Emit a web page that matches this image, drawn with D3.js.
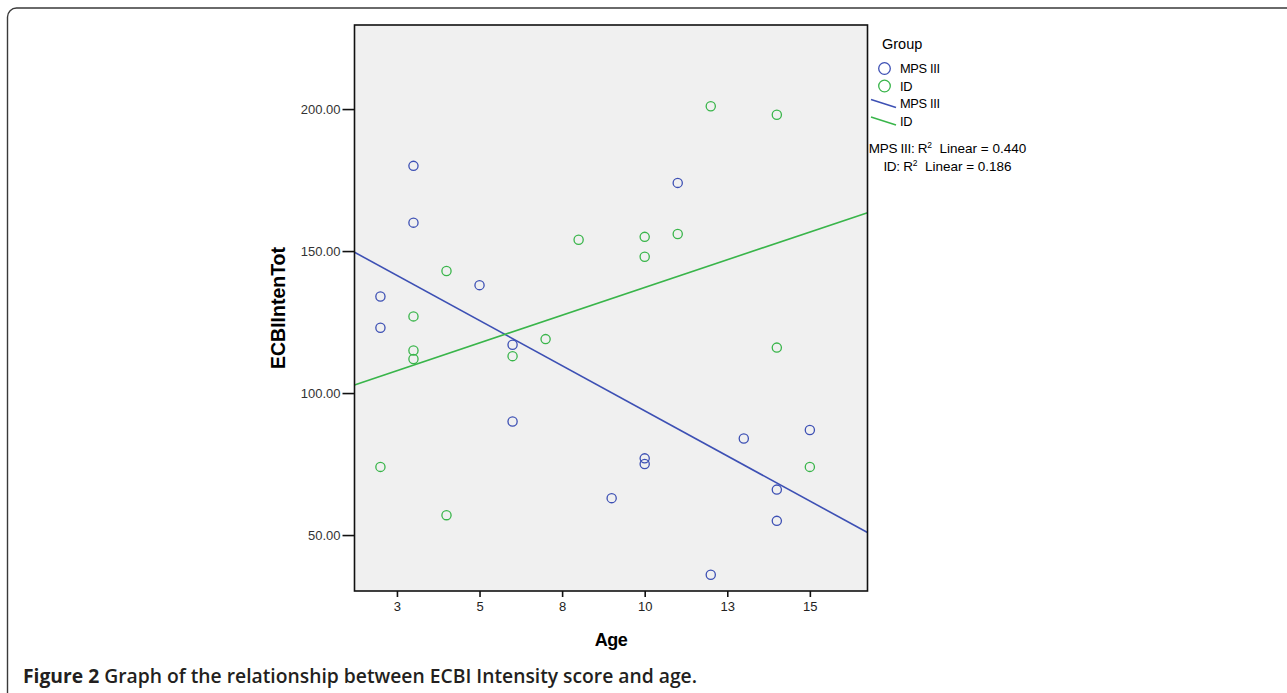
<!DOCTYPE html>
<html>
<head>
<meta charset="utf-8">
<script src="https://cdn.jsdelivr.net/npm/d3@7"></script>
<style>
  html, body { margin: 0; padding: 0; background: #fff; }
  svg { display: block; }
</style>
</head>
<body>
<svg id="chart"></svg>
<script>
// values
const mpsAge = [2, 2, 3, 3, 5, 6, 6, 9, 10, 10, 11, 12, 13, 14, 14, 15];
const mpsScore = [134, 123, 180, 160, 138, 117, 90, 63, 77, 75, 174, 36, 84, 66, 55, 87];
const idAge = [2, 3, 3, 3, 4, 4, 6, 7, 8, 10, 10, 11, 12, 14, 14, 15];
const idScore = [74, 127, 115, 112, 143, 57, 113, 119, 154, 155, 148, 156, 201, 198, 116, 74];

const groupNames = ['MPS III', 'ID'];
const rSquared = ['0.440', '0.186'];
const xTicks = [2.5, 5, 7.5, 10, 12.5, 15];
const xTickLabels = ['3', '5', '8', '10', '13', '15'];
const yTicks = [50, 100, 150, 200];

const WIDTH = 1287;
const HEIGHT = 693;
const PLOT = { left: 354.5, top: 25, right: 867.5, bottom: 591 };
const COLORS = ['#3d50b4', '#39b54a'];

const svg = d3.select('#chart').attr('width', WIDTH).attr('height', HEIGHT);

//figure frame
svg
  .append('rect')
  .attr('x', 7.5)
  .attr('y', 8)
  .attr('width', WIDTH + 20)
  .attr('height', HEIGHT + 20)
  .attr('rx', 9)
  .attr('fill', 'none')
  .attr('stroke', '#3a3a3a')
  .attr('stroke-width', 1.4);

const x = d3.scaleLinear().domain([1.215, 16.745]).range([PLOT.left, PLOT.right]);
const y = d3.scaleLinear().domain([30.3, 229.6]).range([PLOT.bottom, PLOT.top]);

svg
  .append('rect')
  .attr('x', PLOT.left)
  .attr('y', PLOT.top)
  .attr('width', PLOT.right - PLOT.left)
  .attr('height', PLOT.bottom - PLOT.top)
  .attr('fill', '#f0f0f0');

const linearFit = (xs, ys) => {
  const mx = d3.mean(xs);
  const my = d3.mean(ys);
  let sxy = 0;
  let sxx = 0;
  xs.forEach((v, i) => {
    sxy += (v - mx) * (ys[i] - my);
    sxx += (v - mx) * (v - mx);
  });
  const slope = sxy / sxx;
  return (v) => my + slope * (v - mx);
};

const groups = [
  { name: groupNames[0], ages: mpsAge, scores: mpsScore, color: COLORS[0] },
  { name: groupNames[1], ages: idAge, scores: idScore, color: COLORS[1] },
];

const plot = svg.append('g');
plot
  .append('clipPath')
  .attr('id', 'plotClip')
  .append('rect')
  .attr('x', PLOT.left)
  .attr('y', PLOT.top)
  .attr('width', PLOT.right - PLOT.left)
  .attr('height', PLOT.bottom - PLOT.top);

groups.forEach((g) => {
  const fit = linearFit(g.ages, g.scores);
  const [x0, x1] = x.domain();
  plot
    .append('path')
    .attr('clip-path', 'url(#plotClip)')
    .attr(
      'd',
      d3.line()([
        [x(x0), y(fit(x0))],
        [x(x1), y(fit(x1))],
      ])
    )
    .attr('stroke', g.color)
    .attr('stroke-width', 1.6)
    .attr('fill', 'none');
});

groups.forEach((g) => {
  plot
    .selectAll(null)
    .data(g.ages.map((a, i) => ({ age: a, score: g.scores[i] })))
    .enter()
    .append('circle')
    .attr('cx', (d) => x(d.age))
    .attr('cy', (d) => y(d.score))
    .attr('r', 4.6)
    .attr('fill', 'none')
    .attr('stroke', g.color)
    .attr('stroke-width', 1.3);
});

//axes
const xAxis = svg
  .append('g')
  .attr('transform', `translate(0, ${PLOT.bottom})`)
  .call(
    d3
      .axisBottom(x)
      .tickValues(xTicks)
      .tickFormat((d, i) => xTickLabels[i])
      .tickSize(6)
      .tickSizeOuter(0)
      .tickPadding(5)
  );
xAxis.select('.domain').remove();
xAxis.selectAll('line').attr('stroke', '#111').attr('stroke-width', 1.6);
xAxis
  .selectAll('text')
  .attr('font-family', 'Arial, "Liberation Sans", sans-serif')
  .attr('font-size', '13px')
  .attr('fill', '#222');

const yAxis = svg
  .append('g')
  .attr('transform', `translate(${PLOT.left}, 0)`)
  .call(
    d3
      .axisLeft(y)
      .tickValues(yTicks)
      .tickFormat(d3.format('.2f'))
      .tickSize(12)
      .tickSizeOuter(0)
      .tickPadding(2)
  );
yAxis.select('.domain').remove();
yAxis.selectAll('line').attr('stroke', '#111').attr('stroke-width', 1.6);
yAxis
  .selectAll('text')
  .attr('font-family', 'Arial, "Liberation Sans", sans-serif')
  .attr('font-size', '13px')
  .attr('fill', '#333');

svg
  .append('rect')
  .attr('x', PLOT.left)
  .attr('y', PLOT.top)
  .attr('width', PLOT.right - PLOT.left)
  .attr('height', PLOT.bottom - PLOT.top)
  .attr('fill', 'none')
  .attr('stroke', '#111')
  .attr('stroke-width', 1.6);

svg
  .append('text')
  .text('Age')
  .attr('x', (PLOT.left + PLOT.right) / 2)
  .attr('y', 646)
  .attr('text-anchor', 'middle')
  .attr('font-family', 'Arial, "Liberation Sans", sans-serif')
  .attr('font-weight', 'bold')
  .attr('font-size', '18px')
  .attr('letter-spacing', '-0.5px')
  .attr('fill', '#000');

svg
  .append('text')
  .text('ECBIIntenTot')
  .attr('transform', `translate(285, ${(PLOT.top + PLOT.bottom) / 2}) rotate(-90)`)
  .attr('text-anchor', 'middle')
  .attr('font-family', 'Arial, "Liberation Sans", sans-serif')
  .attr('font-weight', 'bold')
  .attr('font-size', '19.5px')
  .attr('fill', '#000');

//legend
const legend = svg
  .append('g')
  .attr('font-family', 'Arial, "Liberation Sans", sans-serif')
  .attr('fill', '#000');

legend
  .append('text')
  .text('Group')
  .attr('x', 882)
  .attr('y', 49)
  .attr('font-size', '14.5px');

groups.forEach((g, i) => {
  const cy = 68.5 + i * 17.5;
  legend
    .append('circle')
    .attr('cx', 884.5)
    .attr('cy', cy)
    .attr('r', 5.8)
    .attr('fill', 'none')
    .attr('stroke', g.color)
    .attr('stroke-width', 1.3);
  legend
    .append('text')
    .text(g.name)
    .attr('x', 900)
    .attr('y', cy + 4.5)
    .attr('font-size', '12.8px')
    .attr('letter-spacing', '-0.3px');
});

groups.forEach((g, i) => {
  const ly = 103.5 + i * 17.5;
  legend
    .append('line')
    .attr('x1', 871)
    .attr('y1', ly - 4)
    .attr('x2', 896)
    .attr('y2', ly + 4)
    .attr('stroke', g.color)
    .attr('stroke-width', 1.6);
  legend
    .append('text')
    .text(g.name)
    .attr('x', 900)
    .attr('y', ly + 4.5)
    .attr('font-size', '12.8px')
    .attr('letter-spacing', '-0.3px');
});

groups.forEach((g, i) => {
  const t = legend
    .append('text')
    .attr('x', 947.5)
    .attr('y', 153 + i * 17.5)
    .attr('text-anchor', 'middle')
    .attr('font-size', '13.5px');
  t.append('tspan').text(`${g.name}: R`).attr('letter-spacing', '-0.3px');
  t.append('tspan').text('2').attr('font-size', '8.5px').attr('dy', -5);
  t.append('tspan').text(`  Linear = ${rSquared[i]}`).attr('dy', 5).attr('xml:space', 'preserve');
});

//caption
const caption = svg
  .append('text')
  .attr('x', 23)
  .attr('y', 683)
  .attr('font-family', '"Open Sans", "Noto Sans", sans-serif')
  .attr('font-size', '19.3px')
  .attr('fill', '#231f20');
caption.append('tspan').text('Figure 2').attr('font-weight', 'bold');
caption
  .append('tspan')
  .text(' Graph of the relationship between ECBI Intensity score and age.')
  .attr('font-weight', 600);
</script>
</body>
</html>
